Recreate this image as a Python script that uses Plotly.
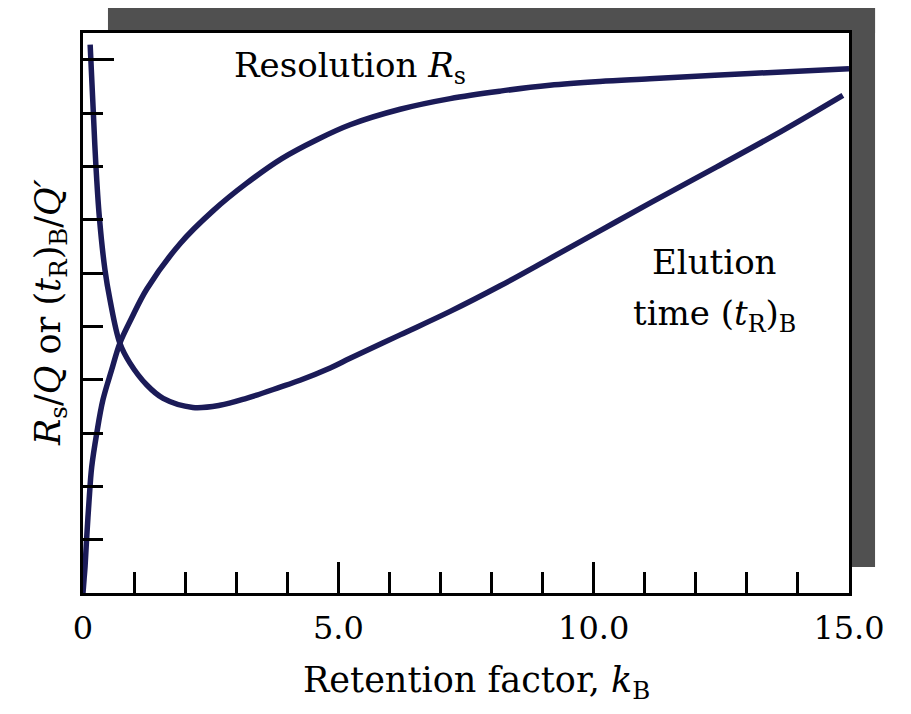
import plotly.graph_objects as go

# ---- data ----
k_resolution = [0.0, 0.02, 0.04, 0.07, 0.12, 0.17, 0.27, 0.39, 0.56, 0.72, 0.95, 1.25,
                1.9, 2.55, 3.2, 3.9, 4.58, 5.23, 6.21, 7.19, 8.17, 9.14, 10.12, 11.1,
                13.06, 15.0]
rs_over_q = [0.0, 0.25, 0.49, 1.0, 1.75, 2.36, 3.0, 3.62, 4.18, 4.68, 5.15, 5.70,
             6.55, 7.17, 7.68, 8.15, 8.50, 8.78, 9.07, 9.27, 9.41, 9.52, 9.59, 9.64,
             9.74, 9.83]

k_elution = [0.14, 0.20, 0.25, 0.32, 0.43, 0.53, 0.72, 0.92, 1.25, 1.57, 2.15, 2.68,
             3.2, 3.86, 4.25, 4.84, 5.23, 6.21, 7.19, 8.17, 9.14, 10.12, 11.1, 12.41,
             13.7, 14.88]
tr_over_q = [10.28, 9.06, 8.06, 7.05, 6.06, 5.49, 4.69, 4.31, 3.90, 3.65, 3.48, 3.52,
             3.65, 3.86, 3.99, 4.22, 4.40, 4.84, 5.28, 5.76, 6.27, 6.79, 7.31, 7.99,
             8.67, 9.33]

x_tick_vals = [0, 5, 10, 15]
x_tick_text = ["0", "5.0", "10.0", "15.0"]
y_major_ticks = [10]

NAVY = "#1b1b58"
FONT = "DejaVu Serif"
SHADOW = "#505050"

fig = go.Figure()
fig.add_trace(go.Scatter(x=k_resolution, y=rs_over_q, mode="lines",
                         line=dict(color=NAVY, width=5.5, shape="spline", smoothing=1.0),
                         hoverinfo="skip"))
fig.add_trace(go.Scatter(x=k_elution, y=tr_over_q, mode="lines",
                         line=dict(color=NAVY, width=5.5, shape="spline", smoothing=1.0),
                         hoverinfo="skip"))

axis_common = dict(showline=True, linecolor="black", linewidth=3, mirror=True,
                   showgrid=False, zeroline=False, ticks="inside",
                   tickcolor="black", tickwidth=2.5)

fig.update_layout(
    width=911, height=714, autosize=False,
    margin=dict(l=83, r=62, t=33, b=121, pad=0),
    paper_bgcolor="white", plot_bgcolor="white",
    showlegend=False,
    font=dict(family=FONT, color="black", size=32),
    xaxis=dict(range=[0, 15], tickmode="array", tickvals=x_tick_vals,
               ticktext=x_tick_text, ticklen=31,
               tickfont=dict(family=FONT, size=32, color="black"),
               ticklabelstandoff=5,
               minor=dict(ticks="inside", tickmode="linear", tick0=0, dtick=1,
                          ticklen=21, tickwidth=2.5, tickcolor="black", showgrid=False),
               **axis_common),
    yaxis=dict(range=[0, 10.5], tickmode="array", tickvals=y_major_ticks,
               ticklen=31, showticklabels=False,
               minor=dict(ticks="inside", tickmode="linear", tick0=0, dtick=1,
                          ticklen=20, tickwidth=2.5, tickcolor="black", showgrid=False),
               **axis_common),
    shapes=[
        dict(type="rect", xref="paper", yref="paper", x0=0.0326, x1=1.034,
             y0=1.0, y1=1.0446, fillcolor=SHADOW, line=dict(width=0), layer="below"),
        dict(type="rect", xref="paper", yref="paper", x0=1.0, x1=1.034,
             y0=0.0464, y1=1.0446, fillcolor=SHADOW, line=dict(width=0), layer="below"),
    ],
    annotations=[
        dict(text="Resolution <i>R</i><sub>s</sub>", x=2.92, y=9.85, xref="x", yref="y",
             xanchor="left", yanchor="middle", showarrow=False,
             font=dict(family=FONT, size=34, color="black")),
        dict(text="Elution", x=12.37, y=6.21, xref="x", yref="y",
             xanchor="center", yanchor="middle", showarrow=False,
             font=dict(family=FONT, size=34, color="black")),
        dict(text="time (<i>t</i><sub>R</sub>)<sub>B</sub>", x=12.37, y=5.2, xref="x", yref="y",
             xanchor="center", yanchor="middle", showarrow=False,
             font=dict(family=FONT, size=34, color="black")),
        dict(text="<i>R</i><sub>s</sub>/<i>Q</i> or (<i>t</i><sub>R</sub>)<sub>B</sub>/<i>Q′</i>",
             x=-0.043, y=0.5, xref="paper", yref="paper", textangle=-90,
             xanchor="center", yanchor="middle", showarrow=False,
             font=dict(family=FONT, size=35, color="black")),
        dict(text="Retention factor, <i>k</i><sub>B</sub>",
             x=0.514, y=-0.16, xref="paper", yref="paper",
             xanchor="center", yanchor="middle", showarrow=False,
             font=dict(family=FONT, size=35, color="black")),
    ],
)

fig.write_html("out.html")
